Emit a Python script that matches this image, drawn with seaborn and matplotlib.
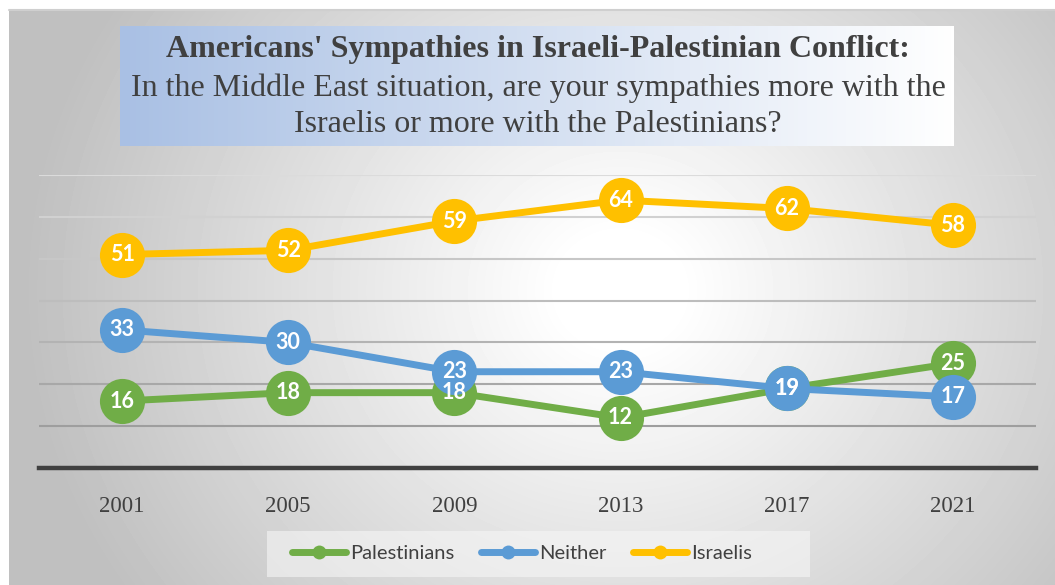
import numpy as np
import pandas as pd
import matplotlib
matplotlib.use("Agg")
import matplotlib.pyplot as plt
from matplotlib.lines import Line2D
from matplotlib.patches import Rectangle
from matplotlib.colors import LinearSegmentedColormap
import seaborn as sns

# Survey data
years = ["2001", "2005", "2009", "2013", "2017", "2021"]
palestinians = [16, 18, 18, 12, 19, 25]
neither = [33, 30, 23, 23, 19, 17]
israelis = [51, 52, 59, 64, 62, 58]
series_names = ["Palestinians", "Neither", "Israelis"]
series_colors = ["#70AD47", "#5B9BD5", "#FFC000"]
title_lines = [
    "Americans' Sympathies in Israeli-Palestinian Conflict:",
    "In the Middle East situation, are your sympathies more with the",
    "Israelis or more with the Palestinians?",
]

df = pd.DataFrame({
    "year": years * 3,
    "value": palestinians + neither + israelis,
    "series": [s for s in series_names for _ in years],
})

sns.set_theme(style="white")
plt.rcParams["font.family"] = ["Liberation Serif", "DejaVu Serif"]

W, H = 1055, 585
fig = plt.figure(figsize=(W / 100, H / 100), dpi=100)
fig.patch.set_facecolor("white")

# Chart area with radial grey-to-white gradient
bg = fig.add_axes([9 / W, 0, 1 - 9 / W, 1 - 10 / H], zorder=0)
xx, yy = np.meshgrid(np.arange(9, W), np.arange(10, H))
r = np.hypot(xx - 620, (yy - 290) * 1.1)
shade = 1 - 0.25 * np.clip((r - 60) / 540, 0, 1)
bg.imshow(shade, cmap="gray", vmin=0, vmax=1, aspect="auto",
          extent=(0, 1, 0, 1), origin="upper", interpolation="bilinear")
bg.plot([0, 1], [1, 1], color="#cfcfcf", lw=1.5, transform=bg.transAxes, clip_on=False)
bg.set_axis_off()

# Plot area
ax = fig.add_axes([39 / W, 1 - 468 / H, (1036 - 39) / W, (468 - 175) / H], zorder=2)
ax.patch.set_alpha(0)

sns.lineplot(data=df, x="year", y="value", hue="series", hue_order=series_names,
             palette=series_colors, marker="o", markersize=32.5, markeredgewidth=0,
             linewidth=5, sort=False, legend=False, ax=ax)

for name, vals in zip(series_names, [palestinians, neither, israelis]):
    for i, v in enumerate(vals):
        ax.text(i, v, str(v), ha="center", va="center", color="white",
                fontsize=15.5, fontweight="bold", family=["Lato", "DejaVu Sans"], zorder=10)

ax.set_xlim(-0.5, len(years) - 0.5)
ax.set_ylim(0, 70)
grid_levels = np.arange(10, 71, 10)
ax.set_yticks(grid_levels)
# gridlines fade toward the top of the plot
grid_greys = np.linspace(0.62, 0.86, len(grid_levels))
for lvl, g in zip(grid_levels, grid_greys):
    ax.axhline(lvl, color=str(g), linewidth=1.5, zorder=0.5)
ax.grid(False)
ax.tick_params(axis="y", left=False, labelleft=False)
ax.tick_params(axis="x", bottom=False, labelsize=16.5, labelcolor="#404040", pad=14)
for side in ["top", "right", "left"]:
    ax.spines[side].set_visible(False)
ax.spines["bottom"].set_color("#404040")
ax.spines["bottom"].set_linewidth(3.2)
ax.set_xlabel("")
ax.set_ylabel("")

# Title box with horizontal blue-to-white gradient
tb = fig.add_axes([120 / W, 1 - 146 / H, (954 - 120) / W, (146 - 26) / H], zorder=3)
cmap = LinearSegmentedColormap.from_list("tb", ["#A9C0E4", "#FFFFFF"])
tb.imshow(np.linspace(0, 1, 256)[None, :], cmap=cmap, aspect="auto", extent=(0, 1, 0, 1))
tb.set_axis_off()
for k, (line, ypix) in enumerate(zip(title_lines, [50, 88, 125])):
    fig.text(538 / W, 1 - ypix / H, line, ha="center", va="center",
             fontsize=23, fontweight="bold" if k == 0 else "normal",
             color="#404040", zorder=5)

# Legend
fig.patches.append(Rectangle((267 / W, 1 - 577 / H), (810 - 267) / W, 46 / H,
                             transform=fig.transFigure, facecolor="#f6f6f6",
                             alpha=0.6, edgecolor="none", zorder=4))
handles = [Line2D([0], [0], color=c, lw=5, marker="o", markersize=10, markeredgewidth=0)
           for c in series_colors]
leg = fig.legend(handles, series_names, loc="center", bbox_to_anchor=(522 / W, 1 - 553 / H),
                 ncol=3, frameon=False, handlelength=2.7, handletextpad=0.2,
                 columnspacing=1.3,
                 prop={"family": ["Lato", "DejaVu Sans"], "size": 14.5})
for t in leg.get_texts():
    t.set_color("#404040")
leg.set_zorder(6)

fig.savefig("out.png", dpi=100)
